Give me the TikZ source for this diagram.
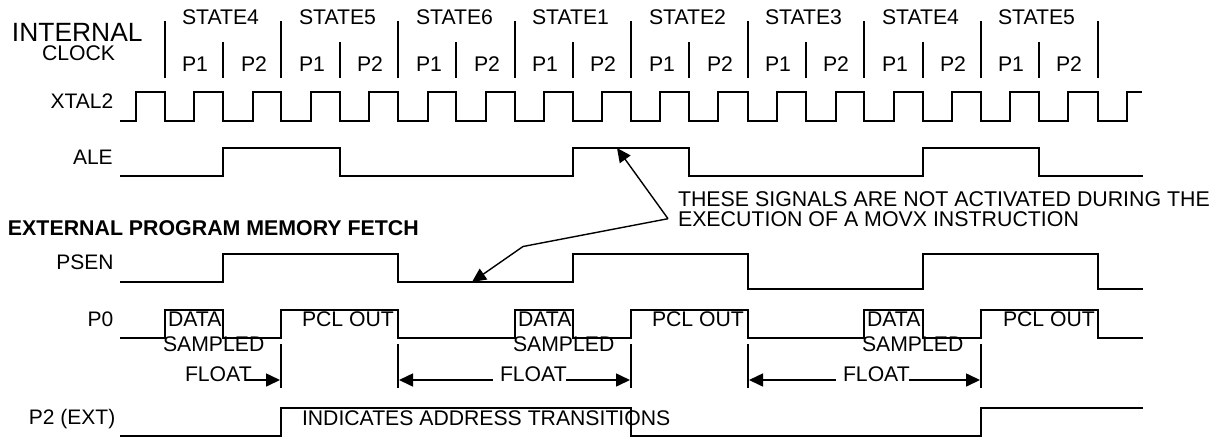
\documentclass[tikz,border=0pt]{standalone}
\usepackage{fontspec}
\setmainfont{Liberation Sans}
\usetikzlibrary{arrows.meta}
\newcommand{\fsz}[1]{\fontsize{#1}{#1}\selectfont}
\tikzset{
  sig/.style={line width=2pt,line join=miter},
  tick/.style={line width=2pt},
  call/.style={line width=1.4pt,-{Triangle[length=14pt,width=13pt]}},
  flo/.style={line width=1.6pt,-{Triangle[length=14pt,width=13pt]}},
  lab/.style={inner sep=0pt,outer sep=0pt,anchor=base west,font=\fsz{21.2}},
  labr/.style={inner sep=0pt,outer sep=0pt,anchor=base east,font=\fsz{21}},
}
\begin{document}
\begin{tikzpicture}[x=1pt,y=-1pt]
\useasboundingbox (0,0) rectangle (1214,437);
% clock ticks
\foreach \x in {165,281,398,515,631,748,864,981,1098}{\draw[tick] (\x,21) -- (\x,78);}
\foreach \x in {223,340,456,573,689,806,923,1039}{\draw[tick] (\x,42) -- (\x,78);}
% headers
\node[lab,font=\fsz{26.4}] (internal) at (12,41) {INTERNAL};
\node[lab,font=\fsz{21.2}] (clock) at (42,60.7) {CLOCK};
\foreach \x/\n [count=\i] in {182/4,299/5,416/6,532/1,649/2,765/3,882/4,998/5}{
  \node[lab] (st\i) at (\x,24) {STATE\n};
  \node[lab] (pa\i) at (\x,71.7) {P1};
}
\foreach \x [count=\i] in {241,357,474,590,707,823,940,1056}{
  \node[lab] (pb\i) at (\x,71.7) {P2};
}
% signal names
\node[labr] (nx) at (113.3,108.6) {XTAL2};
\node[labr] (na) at (112.7,164) {ALE};
\node[labr] (nps) at (113.5,269) {PSEN};
\node[labr] (np0) at (113.3,326) {P0};
\node[labr] (np2) at (115.3,424) {P2 (EXT)};
% XTAL2
\draw[sig] (120,121)
  \foreach \r/\f in {136/165,194/223,253/281,311/340,369/398,428/456,486/515,544/573,602/631,660/689,718/748,777/806,836/864,894/923,952/981,1010/1039,1068/1098}{
    -- (\r,121) -- (\r,92) -- (\f,92) -- (\f,121)}
  -- (1127,121) -- (1127,92) -- (1142,92);
% ALE
\draw[sig] (120,175.5) -- (223,175.5) -- (223,148) -- (340,148) -- (340,175.5)
  -- (573,175.5) -- (573,148) -- (689,148) -- (689,175.5)
  -- (923,175.5) -- (923,148) -- (1039,148) -- (1039,175.5) -- (1143,175.5);
% PSEN
\draw[sig] (120,282) -- (223,282) -- (223,254) -- (398,254) -- (398,282)
  -- (573,282) -- (573,254) -- (748,254) -- (748,289)
  -- (923,289) -- (923,254) -- (1098,254) -- (1098,289) -- (1143,289);
% P0
\draw[sig] (120,338) -- (165,338) -- (165,310) -- (223,310) -- (223,338)
  -- (281,338) -- (281,310) -- (398,310) -- (398,338)
  -- (515,338) -- (515,310) -- (573,310) -- (573,338)
  -- (631,338) -- (631,310) -- (748,310) -- (748,338)
  -- (864,338) -- (864,310) -- (923,310) -- (923,338)
  -- (981,338) -- (981,310) -- (1098,310) -- (1098,338) -- (1143,338);
% P2
\draw[sig] (120,435.7) -- (281,435.7) -- (281,408) -- (631,408) -- (631,435.7)
  -- (981,435.7) -- (981,408) -- (1143,408);
% P0 texts
\foreach \x/\y/\z [count=\i] in {168/163/302,518/513/652,867/862/1003}{
  \node[lab] (da\i) at (\x,326) {DATA};
  \node[lab] (sa\i) at (\y,351) {SAMPLED};
  \node[lab] (pc\i) at (\z,326) {PCL OUT};
}
% float ticks
\foreach \x in {281,398,631,748,981}{\draw[tick] (\x,344) -- (\x,387.7);}
\node[lab] (f1) at (185,381.7) {FLOAT};
\node[lab] (f2) at (500,381.7) {FLOAT};
\node[lab] (f3) at (843,381.7) {FLOAT};
\coordinate (f1a) at (246,380);
\coordinate (t1) at (280,380);
\coordinate (f2l) at (493,380);
\coordinate (t2) at (399,380);
\coordinate (f2r) at (566,380);
\coordinate (t3) at (630,380);
\coordinate (f3l) at (836,380);
\coordinate (t4) at (749,380);
\coordinate (f3r) at (909,380);
\coordinate (t5) at (980,380);
\draw[flo] (f1a) -- (t1);
\draw[flo] (f2l) -- (t2);
\draw[flo] (f2r) -- (t3);
\draw[flo] (f3l) -- (t4);
\draw[flo] (f3r) -- (t5);
\node[lab] (ind) at (302,425.7) {INDICATES ADDRESS TRANSITIONS};
% note
\node[lab,font=\fsz{21.35}] (n1) at (678,206.7) {THESE SIGNALS ARE NOT ACTIVATED DURING THE};
\node[lab,font=\fsz{21.35}] (n2) at (678,226.7) {EXECUTION OF A MOVX INSTRUCTION};
\node[lab,font=\fsz{21.35}\bfseries] (ext) at (8,235) {EXTERNAL PROGRAM MEMORY FETCH};
\coordinate (piv) at (668,218.7);
\coordinate (bend) at (523,246.5);
\coordinate (tipa) at (617,148);
\coordinate (tipb) at (472,282);
\draw[call,line join=miter] (piv) -- (tipa);
\draw[call,line join=miter] (piv) -- (bend) -- (tipb);
\end{tikzpicture}
\end{document}
